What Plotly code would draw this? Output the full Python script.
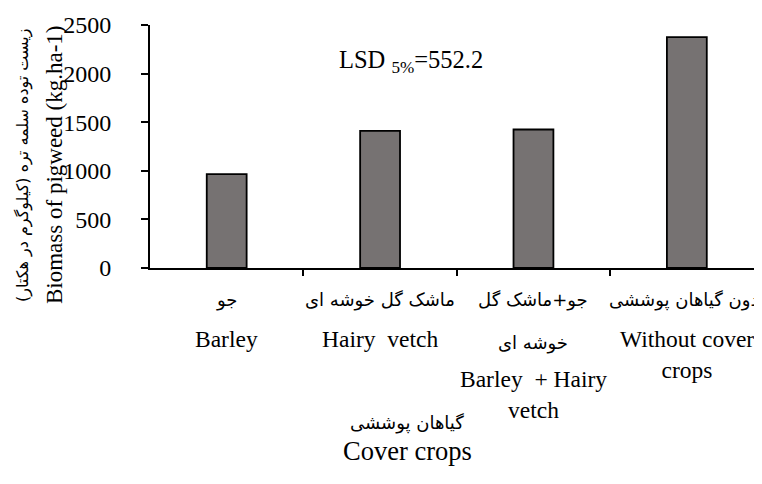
import plotly.graph_objects as go

categories_fa = ["جو", "ماشک گل خوشه ای", "جو+ماشک گل<br>خوشه ای", "بدون گیاهان پوششی"]
categories_en = ["Barley", "Hairy  vetch", "Barley  + Hairy<br>vetch", "Without cover<br>crops"]
biomass = [965, 1410, 1425, 2375]
y_ticks = [0, 500, 1000, 1500, 2000, 2500]

# page body has an 8px margin; work in window pixels and compensate
OFF = 8
WIN_W, WIN_H = 762, 484
W, H = WIN_W - OFF, WIN_H - OFF
L, R, T, B = 150 - OFF, 0, 25 - OFF, 216
ph = H - T - B
pw = W - L - R

def py(p):  # window pixel y -> paper y
    return (H - B - (p - OFF)) / ph

def px(p):  # window pixel x -> paper x
    return ((p - OFF) - L) / pw

serif = "Liberation Serif"
fa_font = "DejaVu Sans"

fig = go.Figure()
fig.add_trace(go.Bar(
    x=list(range(len(biomass))), y=biomass, width=0.26,
    marker=dict(color="#767272", line=dict(color="#000000", width=1.8)),
))

ann = []
for i, (fa, en) in enumerate(zip(categories_fa, categories_en)):
    fa_lines = fa.split("<br>")
    for j, line in enumerate(fa_lines):
        ann.append(dict(x=i, y=py(300 + 43 * j), xref="x", yref="paper", text=line,
                        showarrow=False, yanchor="middle", xanchor="center",
                        font=dict(family=fa_font, size=18, color="#000")))
    en_y = 338 + 40 * (len(fa_lines) - 1)
    ann.append(dict(x=i, y=py(en_y - 14), xref="x", yref="paper", text=en,
                    showarrow=False, yanchor="top", xanchor="center",
                    font=dict(family=serif, size=23.5, color="#000")))

ann += [
    dict(x=px(411), y=py(44), xref="paper", yref="paper",
         text="LSD <sub>5%</sub>=552.2", showarrow=False,
         font=dict(family=serif, size=24.5, color="#000")),
    dict(x=px(407), y=py(436), xref="paper", yref="paper", text="گیاهان پوششی",
         showarrow=False, font=dict(family=fa_font, size=18, color="#000")),
    dict(x=px(407), y=py(468), xref="paper", yref="paper", text="Cover crops",
         showarrow=False, font=dict(family=serif, size=26.5, color="#000")),
    dict(x=px(23), y=py(165), xref="paper", yref="paper", textangle=-90,
         text="زیست توده سلمه تره (کیلوگرم در هکتار)", showarrow=False,
         xanchor="center", yanchor="middle",
         font=dict(family=fa_font, size=16, color="#000")),
    dict(x=px(54), y=py(165), xref="paper", yref="paper", textangle=-90,
         text="Biomass of pigweed (kg.ha-1)", showarrow=False,
         xanchor="center", yanchor="middle",
         font=dict(family=serif, size=23, color="#000")),
]

fig.update_layout(
    width=W, height=H, margin=dict(l=L, r=R, t=T, b=B),
    paper_bgcolor="white", plot_bgcolor="white", showlegend=False,
    font=dict(family=serif),
    annotations=ann,
    xaxis=dict(range=[-0.5, 3.49], tickmode="array", tickvals=[0.5, 1.5, 2.5],
               showticklabels=False, ticks="outside", ticklen=6, tickwidth=1.5,
               tickcolor="#000", showline=True, linecolor="#000", linewidth=1.8,
               showgrid=False, zeroline=False),
    yaxis=dict(range=[0, 2500], tickvals=y_ticks, ticks="outside", ticklen=7,
               tickwidth=1.5, tickcolor="#000", showline=True, linecolor="#000",
               linewidth=1.8, showgrid=False, zeroline=False, ticklabelstandoff=25,
               tickfont=dict(family=serif, size=24, color="#000")),
)

fig.write_html("out.html")
